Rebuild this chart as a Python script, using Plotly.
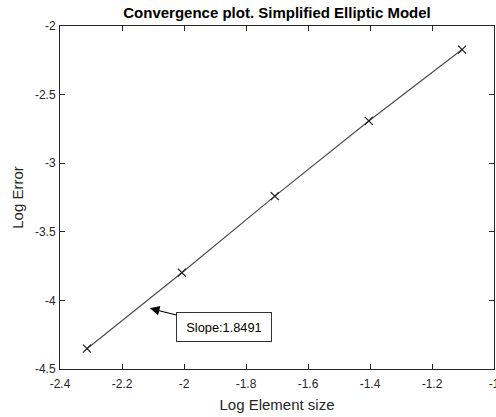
import plotly.graph_objects as go

# Data
log_h = [-2.313, -2.007, -1.707, -1.404, -1.103]
log_err = [-4.352, -3.798, -3.240, -2.692, -2.172]
x_ticks = [-2.4, -2.2, -2.0, -1.8, -1.6, -1.4, -1.2, -1.0]
x_tick_text = ["-2.4", "-2.2", "-2", "-1.8", "-1.6", "-1.4", "-1.2", "-1"]
y_ticks = [-4.5, -4.0, -3.5, -3.0, -2.5, -2.0]
y_tick_text = ["-4.5", "-4", "-3.5", "-3", "-2.5", "-2"]
slope_label = "Slope:1.8491"
arrow_point = (-2.11, -4.058)

font_family = "Liberation Sans, Arial, sans-serif"
axis_color = "#262626"

fig = go.Figure()
fig.add_trace(go.Scatter(
    x=log_h, y=log_err, mode="lines+markers",
    line=dict(color="#4d4d4d", width=1.2),
    marker=dict(symbol="x-thin", size=8, color="#1a1a1a",
                line=dict(width=1.2, color="#1a1a1a")),
    showlegend=False,
))

fig.add_annotation(
    x=arrow_point[0], y=arrow_point[1], xref="x", yref="y",
    text=slope_label, showarrow=True,
    arrowhead=2, arrowsize=1.6, arrowwidth=1.2, arrowcolor="black",
    ax=74, ay=18.5,
    width=80, height=14,
    bordercolor="#333333", borderwidth=1, borderpad=7,
    bgcolor="white",
    font=dict(family=font_family, size=12.8, color="black"),
)

axis_common = dict(
    showgrid=False, zeroline=False, showline=True, linecolor=axis_color,
    linewidth=1, mirror="ticks", ticks="inside", ticklen=5, tickwidth=1,
    tickcolor=axis_color, automargin=False, ticklabeloverflow="allow",
    tickfont=dict(family=font_family, size=12, color=axis_color),
)

fig.update_layout(
    width=496, height=417,
    margin=dict(l=60, r=2, t=26, b=48),
    paper_bgcolor="white", plot_bgcolor="white",
    font=dict(family=font_family, color=axis_color),
    title=dict(
        text="<b>Convergence plot. Simplified Elliptic Model</b>",
        x=0.5, xref="paper", y=1 - 13 / 417, yref="container",
        xanchor="center", yanchor="middle",
        font=dict(family=font_family, size=15, color="black"),
    ),
    xaxis=dict(
        range=[-2.4, -1.0], tickvals=x_ticks, ticktext=x_tick_text,
        ticklabelstandoff=4,
        title=dict(text="Log Element size", standoff=9,
                   font=dict(family=font_family, size=15, color=axis_color)),
        **axis_common,
    ),
    yaxis=dict(
        range=[-4.5, -2.0], tickvals=y_ticks, ticktext=y_tick_text,
        ticklabelstandoff=1,
        title=dict(text="Log Error", standoff=7,
                   font=dict(family=font_family, size=15, color=axis_color)),
        **axis_common,
    ),
)

fig.write_html(
    "out.html",
    config={"displayModeBar": False},
    post_script="document.body.style.margin='0';document.body.style.overflow='hidden';",
)
